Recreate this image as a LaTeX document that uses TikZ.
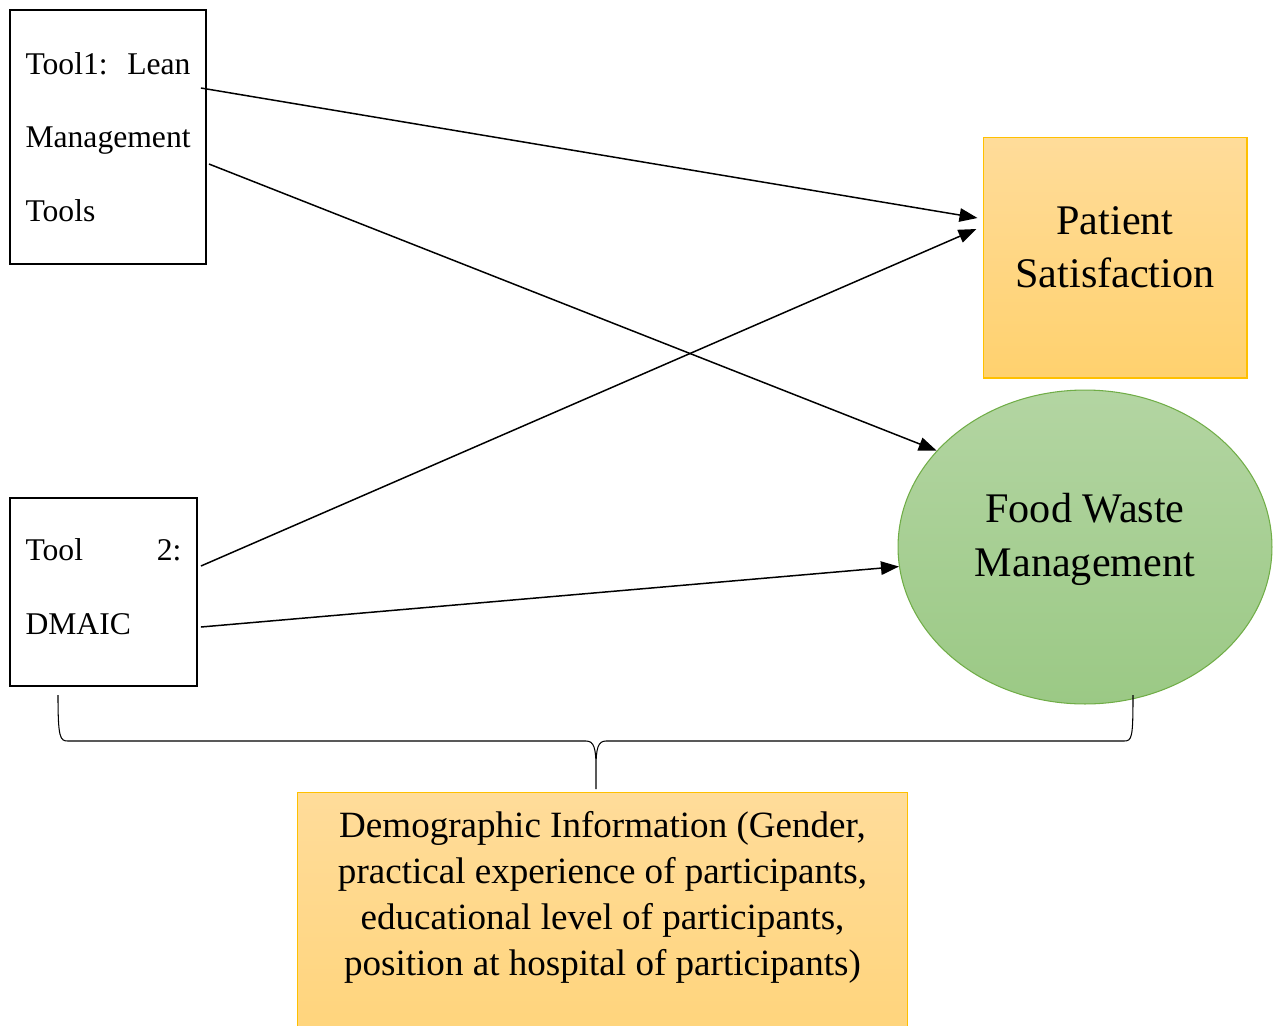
\documentclass[tikz,border=0pt]{standalone}
\usepackage{fontspec}
\setmainfont{Liberation Serif}
\usetikzlibrary{arrows.meta,shapes.geometric}
\definecolor{goldline}{HTML}{FFC000}
\definecolor{goldtop}{HTML}{FFDC9A}
\definecolor{goldbot}{HTML}{FFD16E}
\definecolor{greenline}{HTML}{70AD47}
\definecolor{greentop}{HTML}{B3D5A2}
\definecolor{greenbot}{HTML}{9BC985}
\begin{document}
\begin{tikzpicture}
[x=0.02cm,y=-0.02cm,
 toolbox/.style={rectangle,draw=black,line width=1.1pt,align=left,inner sep=0pt,
   font=\fontsize{18}{41.8}\selectfont},
 goldbox/.style={rectangle,draw=goldline,line width=0.6pt,top color=goldtop,bottom color=goldbot},
 link/.style={-{Triangle[length=0.36cm,width=0.27cm]},line width=0.85pt}]
\useasboundingbox (0,0) rectangle (1278,1025);
\node [toolbox,minimum width=3.92cm,minimum height=5.08cm,text width=3.3cm] (tool1) at (108,137)
  {\makebox[3.3cm][s]{Tool1:\hfill Lean}\\Management\\Tools};
\node [toolbox,minimum width=3.74cm,minimum height=3.76cm,text width=3.12cm,text depth=1.68cm] (tool2) at (103.5,592)
  {\makebox[3.12cm][s]{Tool\hfill 2:}\\DMAIC};
\node [goldbox,minimum width=5.28cm,minimum height=4.82cm,align=center,text depth=0.42cm,
  font=\fontsize{24}{30.7}\selectfont] (patient) at (1115,257.5) {Patient\\Satisfaction};
\node [ellipse,draw=greenline,line width=0.6pt,top color=greentop,bottom color=greenbot,
  minimum width=7.48cm,minimum height=6.28cm,inner sep=0pt,align=center,text depth=0.5cm,
  font=\fontsize{24}{30.7}\selectfont] (food) at (1085,547) {Food Waste\\Management};
\node [goldbox,anchor=north,minimum width=12.22cm,inner ysep=0.38cm,align=center,text depth=3cm,
  font=\fontsize{21.1}{26.2}\selectfont] (demo) at (602.5,792)
  {Demographic Information (Gender,\\practical experience of participants,\\
   educational level of participants,\\position at hospital of participants)};
% arrows
\draw [link] ([shift={(-6,-49)}]tool1.east) -- ([shift={(-5,-39.5)}]patient.west);
\draw [link] ([shift={(2,27)}]tool1.east) -- (food.147);
\draw [link] ([shift={(3,-26)}]tool2.east) -- ([shift={(-6,-28.5)}]patient.west);
\draw [link] ([shift={(3,35)}]tool2.east) -- (food.186);
% brace
\draw [line width=0.6pt] (58,695) .. controls (58,738) and (60,741) .. (68,741) -- (586,741)
  .. controls (594,741) and (596,748) .. (596,768) -- (596,789)
  (596,768) .. controls (596,748) and (598,741) .. (606,741) -- (1124,741)
  .. controls (1132,741) and (1133,738) .. (1133,695);
\end{tikzpicture}
\end{document}
